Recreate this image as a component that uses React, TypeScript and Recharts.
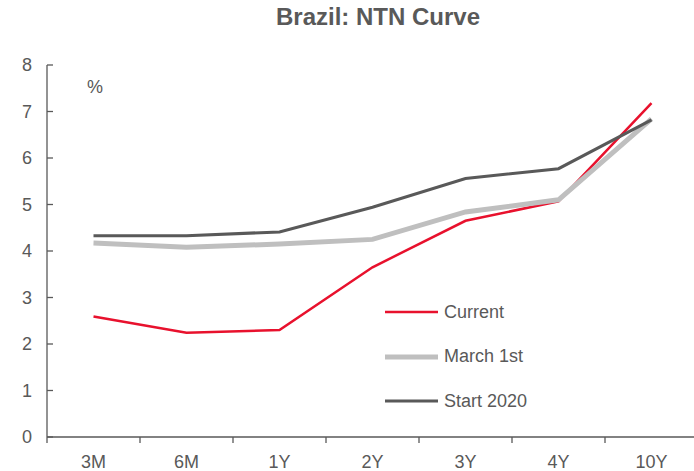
import { LineChart, Line, XAxis, YAxis } from "recharts";

const tenors = ["3M", "6M", "1Y", "2Y", "3Y", "4Y", "10Y"];
const current = [2.59, 2.24, 2.3, 3.65, 4.65, 5.07, 7.18];
const march1st = [4.17, 4.08, 4.15, 4.25, 4.84, 5.1, 6.84];
const start2020 = [4.33, 4.33, 4.41, 4.94, 5.56, 5.77, 6.82];
const yTicks = [0, 1, 2, 3, 4, 5, 6, 7, 8];

const data = tenors.map((t, i) => ({
  tenor: t,
  Current: current[i],
  "March 1st": march1st[i],
  "Start 2020": start2020[i],
}));

const W = 698;
const H = 471;
const LEFT = 47;
const STEP = (W - LEFT) / tenors.length;
const GREY = "#595959";
const FONT = "'Liberation Sans', Arial, sans-serif";

const series = [
  { key: "Current", color: "#E8112D", width: 2.5 },
  { key: "March 1st", color: "#BFBFBF", width: 5 },
  { key: "Start 2020", color: "#595959", width: 3 },
];

function XTick(props: any) {
  const { x, y, payload } = props;
  const axisY = y - 18;
  return (
    <g>
      <line x1={x - STEP / 2} x2={x - STEP / 2} y1={axisY} y2={axisY + 6} stroke={GREY} strokeWidth={1.3} />
      <text x={x} y={y} dy="0.71em" textAnchor="middle" fill={GREY} fontSize={18} fontFamily={FONT}>
        {payload.value}
      </text>
    </g>
  );
}

function LegendBox() {
  return (
    <div style={{ position: "absolute", left: 385, top: 290, fontFamily: FONT, fontSize: 18, color: GREY }}>
      {series.map((s) => (
        <div key={s.key} style={{ display: "flex", alignItems: "center", height: 44.5 }}>
          <svg width={59} height={10}>
            <line x1={0} x2={53} y1={5} y2={5} stroke={s.color} strokeWidth={s.width} />
          </svg>
          <span>{s.key}</span>
        </div>
      ))}
    </div>
  );
}

export default function App() {
  return (
    <div style={{ position: "fixed", left: 0, top: 0, width: 694, height: H, overflow: "hidden", background: "#fff" }}>
      <div style={{ position: "absolute", left: 0, top: 0, width: 694 + 62, textAlign: "center", fontFamily: FONT, fontWeight: "bold", fontSize: 24, color: GREY, lineHeight: "34px" }}>
        Brazil: NTN Curve
      </div>
      <div style={{ position: "absolute", left: 87, top: 77, fontFamily: FONT, fontSize: 18, color: GREY }}>%</div>
      <LineChart width={W} height={H} data={data} margin={{ top: 65, right: 0, bottom: 0, left: 0 }}>
        <XAxis
          dataKey="tenor"
          height={34}
          tickSize={0}
          tickMargin={18}
          interval={0}
          padding={{ left: STEP / 2, right: STEP / 2 }}
          stroke={GREY}
          strokeWidth={1.3}
          tick={<XTick />}
        />
        <YAxis
          width={LEFT}
          domain={[0, 8]}
          ticks={yTicks}
          interval={0}
          tickSize={-6}
          tickMargin={21}
          stroke={GREY}
          strokeWidth={1.3}
          tick={{ fill: GREY, fontSize: 18, fontFamily: FONT }}
        />
        {series.map((s) => (
          <Line
            key={s.key}
            dataKey={s.key}
            stroke={s.color}
            strokeWidth={s.width}
            dot={false}
            activeDot={false}
            type="linear"
            isAnimationActive={false}
          />
        ))}
      </LineChart>
      <LegendBox />
    </div>
  );
}
